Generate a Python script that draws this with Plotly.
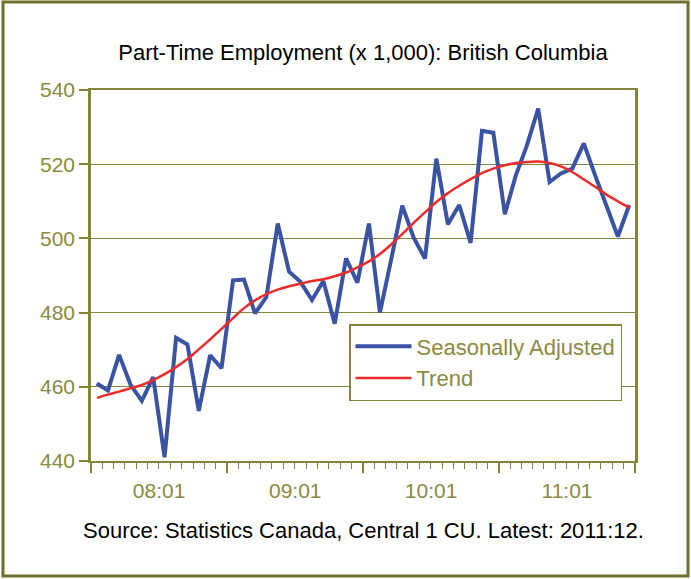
import plotly.graph_objects as go

# ---- data ----
years = [2008, 2009, 2010, 2011]
months = [f"{y}-{m:02d}" for y in years for m in range(1, 13)]

seasonally_adjusted = [
    460.9, 459.0, 468.6, 460.6, 456.2, 462.6, 441.0, 473.2, 471.4, 453.5, 468.5, 465.0,
    488.7, 488.9, 479.8, 484.2, 504.0, 491.0, 488.3, 483.4, 488.5, 477.0, 494.6, 488.1,
    504.0, 480.0, 494.0, 508.8, 500.2, 494.6, 521.5, 503.8, 509.0, 498.8, 529.0, 528.5,
    506.5, 517.0, 525.0, 535.0, 515.2, 517.5, 518.8, 525.6, 517.0, 508.9, 500.5, 509.0,
]
trend = [
    457.0, 457.9, 458.7, 459.6, 460.5, 461.8, 463.4, 465.3, 467.5, 470.1, 472.8, 475.6,
    478.5, 481.2, 483.3, 485.0, 486.2, 487.1, 487.8, 488.5, 489.0, 489.8, 490.8, 492.2,
    493.8, 495.8, 498.3, 501.2, 504.2, 507.0, 509.8, 512.2, 514.2, 516.0, 517.6, 518.8,
    519.7, 520.3, 520.6, 520.7, 520.3, 519.4, 517.9, 515.9, 513.9, 511.8, 510.0, 508.3,
]
y_ticks = [440, 460, 480, 500, 520, 540]

# ---- style ----
W, H = 691, 579
ML, MR, MT, MB = 91, 56, 90, 118
OLIVE = "#85853a"
OLIVE_TXT = "#8a8a40"
FRAME = "#6f6f2e"
FONT = "Arial, Liberation Sans, sans-serif"

pw = W - ML - MR
ph = H - MT - MB


def px_x(p):
    return (p - ML) / pw


def px_y(p):
    return (H - MB - p) / ph


fig = go.Figure()
fig.add_trace(go.Scatter(
    x=months, y=seasonally_adjusted, name="Seasonally Adjusted", mode="lines",
    xperiod="M1", xperiodalignment="middle",
    line=dict(color="#3a53a4", width=4),
))
fig.add_trace(go.Scatter(
    x=months, y=trend, name="Trend", mode="lines",
    xperiod="M1", xperiodalignment="middle",
    line=dict(color="#ee2b2b", width=2.5, shape="spline"),
))

fig.update_layout(
    width=W, height=H,
    margin=dict(l=ML, r=MR, t=MT, b=MB),
    paper_bgcolor="white", plot_bgcolor="white",
    font=dict(family=FONT, size=21, color=OLIVE_TXT),
    title=dict(
        text="Part-Time Employment (x 1,000): British Columbia",
        x=0.5, xref="paper", xanchor="center",
        y=1 - 52 / H, yanchor="middle",
        font=dict(family=FONT, size=22, color="black"),
    ),
    xaxis=dict(
        type="date",
        range=["2008-01-01", "2012-01-01"],
        tick0="2008-01-01", dtick="M12",
        tickformat="%y:01", ticklabelmode="period",
        ticks="outside", ticklen=10, tickwidth=1.5, tickcolor=OLIVE,
        minor=dict(dtick="M1", tick0="2008-01-01", ticks="outside",
                   ticklen=6, tickwidth=1.2, tickcolor=OLIVE, showgrid=False),
        showgrid=False, zeroline=False,
        showline=True, linecolor=OLIVE, linewidth=2, mirror=True,
        tickfont=dict(size=21, color=OLIVE_TXT),
    ),
    yaxis=dict(
        range=[440, 540], tickmode="array", tickvals=y_ticks,
        ticks="outside", ticklen=9, tickwidth=1.5, tickcolor=OLIVE,
        showgrid=True, gridcolor=OLIVE, gridwidth=1,
        zeroline=False,
        showline=True, linecolor=OLIVE, linewidth=2.5, mirror=True,
        tickfont=dict(size=21, color=OLIVE_TXT),
    ),
    legend=dict(
        x=px_x(349), y=px_y(324), xanchor="left", yanchor="top",
        bgcolor="white", bordercolor=OLIVE, borderwidth=1.5,
        font=dict(size=22, color=OLIVE_TXT),
        itemwidth=56, tracegroupgap=0,
    ),
    showlegend=True,
)

fig.add_annotation(
    text="Source: Statistics Canada, Central 1 CU. Latest: 2011:12.",
    xref="paper", yref="paper", x=0.5, y=px_y(530),
    xanchor="center", yanchor="middle", showarrow=False,
    font=dict(family=FONT, size=22, color="black"),
)

fig.add_shape(
    type="rect", xref="paper", yref="paper",
    x0=px_x(3), x1=px_x(688), y0=px_y(576), y1=px_y(2),
    line=dict(color=FRAME, width=3), fillcolor="rgba(0,0,0,0)", layer="below",
)

fig.write_html("out.html", config={"displayModeBar": False},
               post_script="document.body.style.margin='0';")
